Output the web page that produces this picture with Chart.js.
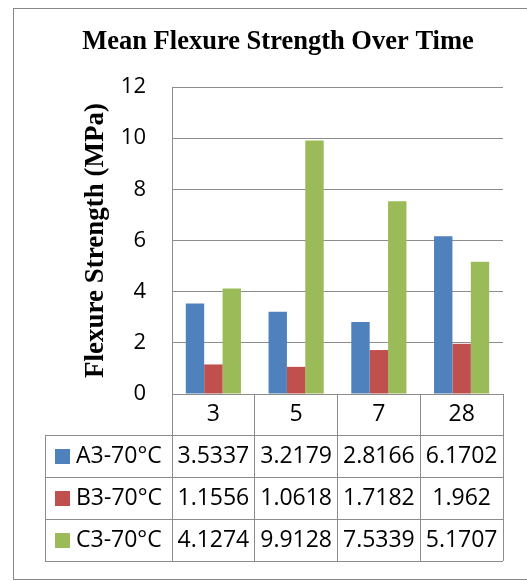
<!DOCTYPE html>
<html>
<head>
<meta charset="utf-8">
<script src="https://cdn.jsdelivr.net/npm/chart.js@4/dist/chart.umd.min.js"></script>
<style>
  html, body { margin: 0; padding: 0; background: #ffffff; }
  canvas { display: block; }
</style>
</head>
<body>
<canvas id="chart" width="527" height="581"></canvas>
<script>
// Curing age in days
const ages = ['3', '5', '7', '28'];
// Mix names
const seriesNames = ['A3-70°C', 'B3-70°C', 'C3-70°C'];
// Mean flexure strength (MPa)
const a3Values = [3.5337, 3.2179, 2.8166, 6.1702];
const b3Values = [1.1556, 1.0618, 1.7182, 1.962];
const c3Values = [4.1274, 9.9128, 7.5339, 5.1707];
// Value axis
const yMin = 0;
const yMax = 12;
const yStep = 2;

const seriesValues = [a3Values, b3Values, c3Values];
const seriesColors = ['#4F81BD', '#C0504D', '#9BBB59'];
const lineColor = '#8C8C8C';
const cellFont = '23px "Open Sans"';

// Data table drawn under the plot, columns aligned to the category axis
const dataTablePlugin = {
  id: 'dataTable',
  afterDraw(chart) {
    const ctx = chart.ctx;
    const x = chart.scales.x;
    const headerTop = chart.chartArea.bottom;
    const headerH = 41;
    const rowH = 42;
    const tableLeft = 45;
    const rowsTop = headerTop + headerH;
    const rowsBottom = rowsTop + rowH * seriesNames.length;

    ctx.save();
    ctx.strokeStyle = lineColor;
    ctx.lineWidth = 1;
    ctx.beginPath();
    for (let r = 0; r <= seriesNames.length; r++) {
      const y = Math.round(rowsTop + r * rowH) + 0.5;
      ctx.moveTo(tableLeft, y);
      ctx.lineTo(x.right, y);
    }
    ctx.moveTo(tableLeft + 0.5, rowsTop);
    ctx.lineTo(tableLeft + 0.5, rowsBottom);
    ctx.stroke();

    ctx.fillStyle = '#000000';
    ctx.font = cellFont;
    ctx.textAlign = 'center';
    ctx.textBaseline = 'middle';
    chart.data.labels.forEach((lab, i) => {
      ctx.fillText(lab, x.getPixelForValue(i), headerTop + headerH / 2);
    });

    chart.data.datasets.forEach((ds, r) => {
      const cy = rowsTop + r * rowH + rowH / 2;
      ctx.fillStyle = ds.backgroundColor;
      ctx.fillRect(55, Math.round(cy - 7), 15, 15);
      ctx.fillStyle = '#000000';
      ctx.textAlign = 'left';
      ctx.fillText(ds.label, 76, cy);
      ctx.textAlign = 'center';
      ds.data.forEach((v, i) => {
        ctx.fillText(String(v), x.getPixelForValue(i), cy);
      });
    });
    ctx.restore();
  }
};

// White page with the chart frame
const framePlugin = {
  id: 'frame',
  beforeDraw(chart) {
    const ctx = chart.ctx;
    ctx.save();
    ctx.fillStyle = '#ffffff';
    ctx.fillRect(0, 0, chart.width, chart.height);
    ctx.strokeStyle = '#888888';
    ctx.lineWidth = 1;
    ctx.strokeRect(13.5, 8.5, chart.width + 20, 571);
    ctx.restore();
  }
};

new Chart(document.getElementById('chart'), {
  type: 'bar',
  data: {
    labels: ages,
    datasets: seriesNames.map((name, i) => ({
      label: name,
      data: seriesValues[i],
      backgroundColor: seriesColors[i],
      borderWidth: 0,
      categoryPercentage: 3 / 4.5,
      barPercentage: 1
    }))
  },
  options: {
    responsive: false,
    animation: false,
    layout: { padding: { left: 53, right: 24, top: 8, bottom: 0 } },
    plugins: {
      legend: { display: false },
      tooltip: { enabled: false },
      title: {
        display: true,
        text: 'Mean Flexure Strength Over Time',
        color: '#000000',
        font: { family: 'Liberation Serif', weight: 'bold', size: 26.5, lineHeight: 1.2 },
        padding: { top: 18, bottom: 29.2 }
      }
    },
    scales: {
      x: {
        ticks: { display: false },
        grid: {
          offset: true,
          drawOnChartArea: false,
          drawTicks: true,
          tickLength: 167,
          color: lineColor,
          lineWidth: 1
        },
        border: { display: true, color: lineColor, width: 1 },
        afterFit(scale) { scale.height = 187; }
      },
      y: {
        min: yMin,
        max: yMax,
        ticks: {
          stepSize: yStep,
          color: '#000000',
          font: { family: 'Open Sans', size: 22 },
          padding: 26
        },
        grid: { color: lineColor, lineWidth: 1, drawTicks: false },
        border: { display: true, color: lineColor, width: 1 },
        title: {
          display: true,
          text: 'Flexure Strength (MPa)',
          color: '#000000',
          font: { family: 'Liberation Serif', weight: 'bold', size: 27, lineHeight: 1 },
          padding: { top: 29.5, bottom: 0 }
        },
        afterFit(scale) { scale.width = 119; }
      }
    }
  },
  plugins: [framePlugin, dataTablePlugin]
});
</script>
</body>
</html>
